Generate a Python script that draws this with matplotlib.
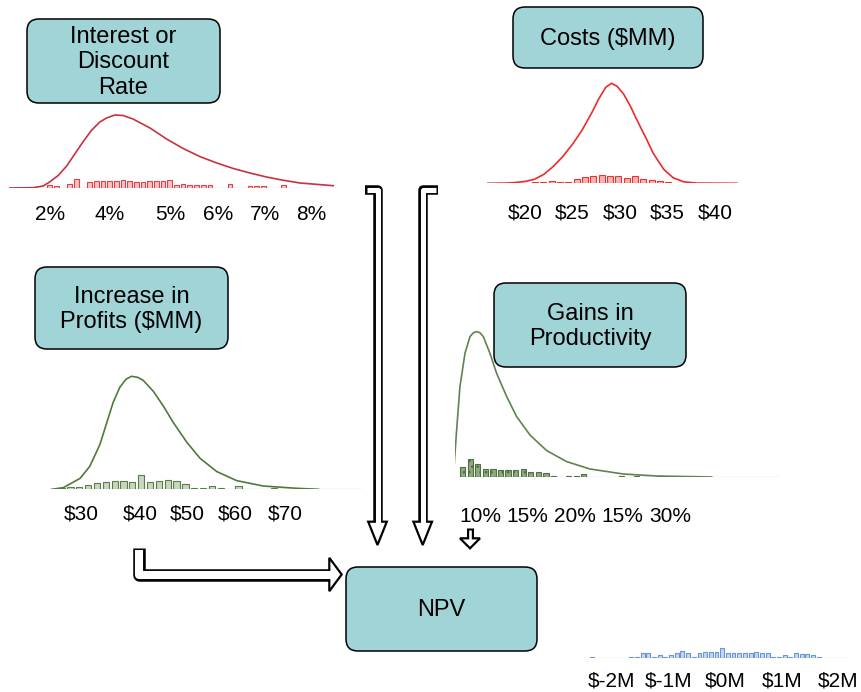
import numpy as np
import matplotlib
matplotlib.use("Agg")
import matplotlib.pyplot as plt
from matplotlib.patches import FancyBboxPatch, Polygon

plt.rcParams['font.family'] = ['Liberation Sans', 'DejaVu Sans']

# ---- input distributions: fitted curve (relative density) + simulated draws ----
# Interest or discount rate (%)
rate_curve_x = [1.62, 2.11, 2.32, 2.46, 2.64, 2.82, 2.99, 3.17, 3.34, 3.52, 3.66, 3.84,
                4.01, 4.22, 4.58, 4.93, 5.28, 5.63, 5.99, 6.34, 6.69, 7.04, 7.40, 7.75, 8.45]
rate_curve_y = [0, 0.3, 2, 6, 12.5, 22, 34, 46.5, 57.5, 66, 70, 73,
                72.5, 69, 60, 49, 39.5, 31.5, 25, 19.5, 15, 11, 7.7, 5, 2.3]
rate_hist_start, rate_hist_width = 2.46, 0.141
rate_hist = [3, 2, 0, 4, 9, 0, 6, 7, 7, 7, 7, 8, 7, 6, 6, 7, 7, 7, 8,
             3, 4, 3, 3, 3, 3, 0, 0, 4, 0, 0, 2, 2, 2, 0, 0, 3]
rate_tick_pos = [2.46, 3.73, 5.0, 6.01, 7.0, 7.99]
rate_tick_labels = ['2%', '4%', '5%', '6%', '7%', '8%']

# Costs ($MM)
cost_curve_x = [16.1, 18.0, 19.0, 20.0, 21.0, 22.0, 23.0, 24.0, 25.0, 26.0, 27.0, 27.8,
                28.5, 29.1, 29.7, 30.4, 31.1, 31.8, 32.8, 33.5, 34.6, 35.6, 36.7, 38.1, 42.3]
cost_curve_y = [0, 0.2, 0.8, 1.8, 4, 9, 17, 27, 39, 53, 70, 85,
                96, 100, 97, 89, 77, 63, 44, 30, 14, 5.5, 1.5, 0.2, 0]
cost_hist_start, cost_hist_width = 21.05, 0.877
cost_hist = [1, 1, 2.5, 1, 1, 4, 6, 7, 8, 7, 7, 5, 7, 4, 3, 2, 1]
cost_tick_pos = [20, 25, 30, 35, 40]
cost_tick_labels = ['$20', '$25', '$30', '$35', '$40']

# Increase in profits ($MM)
profit_curve_x = [24.1, 26.4, 29.7, 31.6, 33.6, 34.9, 36.2, 37.5, 38.7, 39.8, 41.0,
                  42.1, 44.1, 46.1, 48.0, 50.7, 53.3, 56.6, 60.5, 65.7, 72.3, 76.6]
profit_curve_y = [0, 1.7, 11, 23, 45, 66, 87, 102, 110, 113, 112,
                  109, 98, 83, 67, 47, 31, 17.7, 8.7, 3.3, 1, 0]
profit_hist_start, profit_hist_width = 26.06, 1.74
profit_hist = [1.5, 2.5, 2.5, 4, 6, 7, 8, 8, 7, 14, 7, 8, 9, 8, 5,
               1.5, 1.5, 3, 1.5, 0, 3, 0, 0, 0, 1.5]
profit_tick_pos = [30, 41.5, 50.7, 60.2, 70]
profit_tick_labels = ['$30', '$40', '$50', '$60', '$70']

# Gains in productivity (%)
prod_curve_x = [7.19, 7.54, 7.89, 8.42, 8.95, 9.3, 9.65, 10.0, 10.35, 11.05, 11.75,
                12.81, 13.86, 15.26, 17.02, 19.12, 21.58, 25.09, 28.6, 34.39]
prod_curve_y = [0, 47, 90.7, 124, 140.7, 144.5, 145.7, 144.5, 140.7, 124, 104,
                80.7, 60.7, 42.3, 26.7, 15.7, 8.3, 3.3, 1.3, 0.3]
prod_hist_start, prod_hist_width = 8.18, 0.797
prod_hist = [10, 18, 13, 8, 8, 7, 7, 7, 8, 5, 5, 4, 1.5, 0, 1.5, 1.5, 3,
             0, 0, 0, 0, 1.5, 0, 1, 0, 0, 1]
prod_tick_pos = [10, 15, 20, 25, 30]
prod_tick_labels = ['10%', '15%', '20%', '15%', '30%']

# Resulting NPV ($M)
npv_hist_start, npv_hist_width = -2.35, 0.1
npv_hist = [1.5, 0, 0, 0, 0, 0, 0, 1.5, 1.5, 5, 5, 1.5, 3, 1.5, 3.5, 5, 7, 5, 1.5,
            5, 6, 6, 6, 10, 5, 5, 5, 5, 5, 6.5, 5, 5, 1.5, 1.5, 3.5, 1.5, 5, 4, 4, 3, 1.5]
npv_tick_pos = [-2, -1, 0, 1, 2]
npv_tick_labels = ['$-2M', '$-1M', '$0M', '$1M', '$2M']

W, H = 861, 692
fig = plt.figure(figsize=(W / 100, H / 100), dpi=100)


def pt(pixels):
    return pixels * 72 / 100


def add_panel(left, right, base, height, xlim, ticks, labels, pad):
    ax = fig.add_axes([left / W, (H - base) / H, (right - left) / W, height / H])
    ax.set_xlim(*xlim)
    ax.set_ylim(0, height)
    ax.patch.set_alpha(0)
    for s in ax.spines.values():
        s.set_visible(False)
    ax.set_yticks([])
    ax.set_xticks(ticks, labels)
    ax.tick_params(axis='x', length=0, pad=pad, labelsize=15)
    ax.axhline(0, color='#d9d9d9', lw=1, zorder=0)
    return ax


def draw_hist(ax, start, width, heights, face, edge, hatch=None):
    h = np.asarray(heights, float)
    centers = start + width * np.arange(len(h))
    keep = h > 0
    ax.bar(centers[keep], h[keep], width=width * 0.7, color=face,
           edgecolor=edge, linewidth=0.8, hatch=hatch, zorder=2)


ax = add_panel(8, 337, 188, 85, (1.58, 8.53), rate_tick_pos, rate_tick_labels, 12.5)
ax.plot(rate_curve_x, rate_curve_y, color='#c8323f', lw=1.2, zorder=3)
draw_hist(ax, rate_hist_start, rate_hist_width, rate_hist, '#f6c3c6', '#e0404a')

ax = add_panel(486, 740, 183.3, 110, (15.9, 42.63), cost_tick_pos, cost_tick_labels, 14.5)
ax.plot(cost_curve_x, cost_curve_y, color='#ee2a2a', lw=1.2, zorder=3)
draw_hist(ax, cost_hist_start, cost_hist_width, cost_hist, '#f8b4b4', '#e83434')

ax = add_panel(50, 362, 489.3, 125, (23.76, 85.18), profit_tick_pos, profit_tick_labels, 11)
ax.plot(profit_curve_x, profit_curve_y, color='#507a3c', lw=1.2, zorder=3)
draw_hist(ax, profit_hist_start, profit_hist_width, profit_hist, '#c9d7be', '#5a7f46')

ax = add_panel(455, 780, 477.3, 155, (7.37, 41.58), prod_tick_pos, prod_tick_labels, 21.5)
ax.plot(prod_curve_x, prod_curve_y, color='#5f8350', lw=1.2, zorder=3)
draw_hist(ax, prod_hist_start, prod_hist_width, prod_hist, '#8fa981', '#4f7040', hatch='...')

ax = add_panel(585, 848, 658.3, 20, (-2.469, 2.169), npv_tick_pos, npv_tick_labels, 9.5)
draw_hist(ax, npv_hist_start, npv_hist_width, npv_hist, '#c5d6f0', '#6a95d6')

# ---- boxes and flow arrows drawn on a pixel canvas on top ----
canvas = fig.add_axes([0, 0, 1, 1])
canvas.set_xlim(0, W)
canvas.set_ylim(H, 0)
canvas.axis('off')
canvas.set_zorder(5)

boxes = [
    ("Interest or\nDiscount\nRate", 27, 19, 220, 103),
    ("Costs ($MM)", 513, 7, 703, 68),
    ("Increase in\nProfits ($MM)", 35, 267, 228, 349),
    ("Gains in\nProductivity", 494, 283, 686, 367),
    ("NPV", 346, 567, 537, 651),
]
for label, x0, y0, x1, y1 in boxes:
    canvas.add_patch(FancyBboxPatch((x0, y0), x1 - x0, y1 - y0,
                                    boxstyle='round,pad=0,rounding_size=12',
                                    facecolor='#a0d4d7', edgecolor='black', lw=1.1))
    canvas.text((x0 + x1) / 2, (y0 + y1) / 2 + 1.5, label, ha='center', va='center',
                fontsize=17, linespacing=1.2)


def hollow_arrow(path, tip_len, half_w, outer, border=2.2):
    path = [np.array(p, float) for p in path]
    d = path[-1] - path[-2]
    d /= np.hypot(*d)
    n = np.array([-d[1], d[0]])
    base = path[-1]
    head = [base + n * half_w, base + d * tip_len, base - n * half_w]
    canvas.add_patch(Polygon(head, closed=True, facecolor='white', edgecolor='black',
                             lw=pt(border), joinstyle='miter', zorder=3))
    xs, ys = zip(*path)
    canvas.plot(xs, ys, color='black', lw=pt(outer), solid_capstyle='butt',
                solid_joinstyle='round', zorder=4)
    d0 = path[1] - path[0]
    d0 /= np.hypot(*d0)
    inner = [path[0] + d0 * border] + path[1:-1] + [base + d * border * 1.5]
    xs, ys = zip(*inner)
    canvas.plot(xs, ys, color='white', lw=pt(outer - 2 * border), solid_capstyle='butt',
                solid_joinstyle='round', zorder=5)


hollow_arrow([(365, 190), (377.5, 190), (377.5, 521.7)], 23.3, 9.3, 9.5)
hollow_arrow([(438, 190), (422.7, 190), (422.7, 521.7)], 23.3, 9.3, 9.5)
hollow_arrow([(139, 548), (139, 574.5), (329.3, 574.5)], 12.4, 16.7, 12.5)
hollow_arrow([(470, 528), (470, 538.3)], 10, 10, 7)

fig.savefig('out.png', dpi=100, facecolor='white')
